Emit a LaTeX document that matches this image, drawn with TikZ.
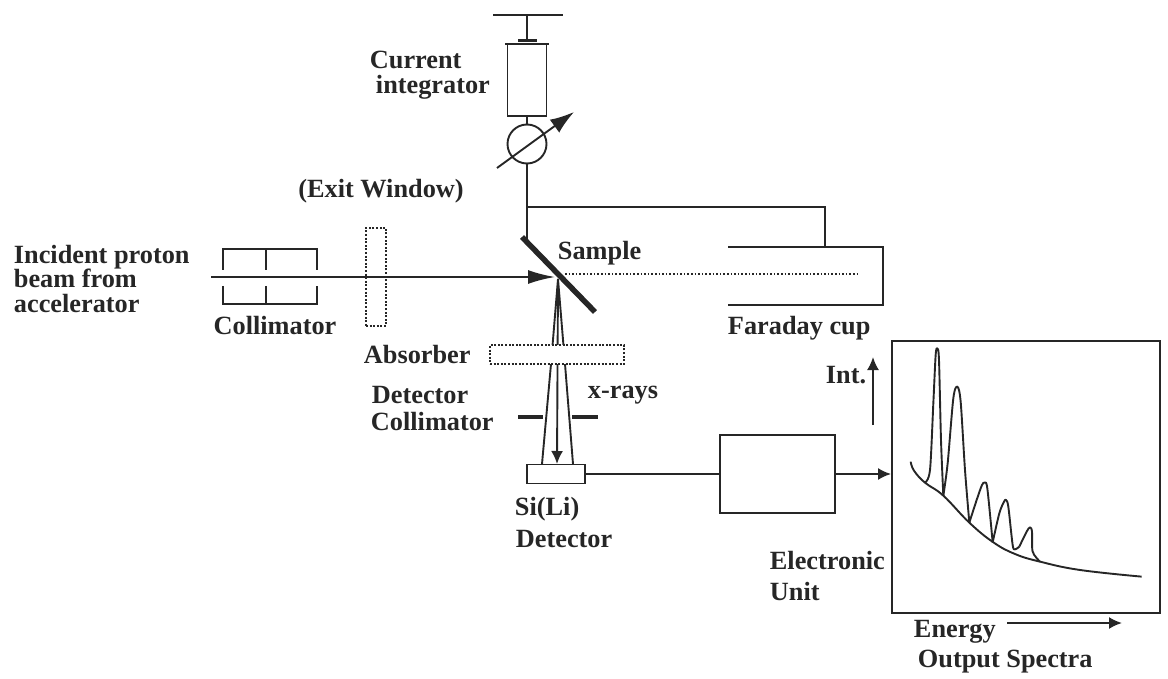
\documentclass[tikz,border=0pt]{standalone}
\usepackage{fontspec}
\setmainfont{Liberation Serif}
\usetikzlibrary{arrows.meta}
\definecolor{inkdark}{HTML}{262626}
\begin{document}
\begin{tikzpicture}[x=1pt,y=-1pt,
                    line width=1.9pt,
                    draw=inkdark,
                    text=inkdark,
                    >={Latex[length=13pt,width=12pt]},
                    ]
    \tikzstyle{tag}=[inner sep=0pt,font=\fontsize{26.3}{24.5}\selectfont\bfseries,align=left];
    \tikzstyle{box}=[draw,rectangle,inner sep=0pt];
    \tikzstyle{dotbox}=[box,fill=white,line width=2pt,dash pattern=on 2pt off 1.6pt];
    \tikzstyle{plate}=[line width=5.5pt];
    \tikzstyle{slit}=[line width=4.5pt];
    \tikzstyle{spectrum}=[line width=1.9pt,line join=round];

    \useasboundingbox (0,0) rectangle (1168,679);

    % current integrator branch
    \coordinate (barL) at (493,15);
    \coordinate (barR) at (563,15);
    \coordinate (barM) at (527,15);
    \node[box,minimum width=39,minimum height=72] (integrator) at (527,80) {};
    \node[box,circle,minimum size=39] (meter) at (527,144) {};
    \coordinate (capL) at (505,44);
    \coordinate (capR) at (549,44);
    \coordinate (capM) at (527,42);
    \coordinate (knobL) at (518,41);
    \coordinate (knobR) at (537,41);
    \coordinate (needleA) at (497,168);
    \coordinate (needleB) at (574,112);
    \coordinate (junction) at (527,207);
    \coordinate (sampleTop) at (527,240);
    \coordinate (cupWire) at (825,207);
    \coordinate (cupTop) at (825,247);

    \draw (barL) -- (barR);
    \draw (barM) -- (capM);
    \draw[line width=2.5pt] (capL) -- (capR);
    \draw[line width=3pt] (knobL) -- (knobR);
    \draw (integrator.south) -- (meter.north);
    \draw (meter.south) -- (sampleTop);
    \draw[-{Latex[length=24pt,width=16pt]}] (needleA) -- (needleB);
    \draw (junction) -- (cupWire) -- (cupTop);

    % beam line
    \coordinate (beamStart) at (211,277);
    \coordinate (beamTip) at (555,277);
    \coordinate (hit) at (558,279);
    \coordinate (sampleA) at (522,237);
    \coordinate (sampleB) at (595,312);
    \node[dotbox,fill=none,minimum width=20,minimum height=98] (window) at (376,277) {};
    \draw[-{Latex[length=27pt,width=14pt]}] (beamStart) -- (beamTip);
    \draw[plate] (sampleA) -- (sampleB);
    \draw[dotted,line width=1.6pt] (565,274) -- (860,274);

    % collimator
    \draw (223,270) -- (223,249) -- (317,249) -- (317,270);
    \draw (266,249) -- (266,270);
    \draw (223,286) -- (223,304) -- (317,304) -- (317,286);
    \draw (266,286) -- (266,304);

    % faraday cup
    \draw (728,247) -- (883,247) -- (883,305) -- (728,305);

    % x-rays
    \node[box,minimum width=58,minimum height=19] (detector) at (556,474) {};
    \coordinate (rayL) at (542,464);
    \coordinate (rayR) at (573,464);
    \draw (hit) -- (551,364) -- (rayL);
    \draw (hit) -- (565,364) -- (rayR);
    \draw[->] (hit) -- (557,464);
    \node[dotbox,minimum width=134,minimum height=19] (absorber) at (557,354.5) {};
    \draw[slit] (518,417) -- (543,417);
    \draw[slit] (572,417) -- (598,417);

    % electronics
    \node[box,minimum width=115,minimum height=78] (unit) at (777.5,474) {};
    \node[box,minimum width=268,minimum height=272] (output) at (1026,477) {};
    \coordinate (intA) at (873,425);
    \coordinate (intB) at (873,357);
    \coordinate (energyA) at (1007,623);
    \coordinate (energyB) at (1122,623);
    \draw (detector.east) -- (unit.west);
    \draw[->] (unit.east) -- (output.west |- unit.east);
    \draw[->] (intA) -- (intB);
    \draw[->] (energyA) -- (energyB);

    % spectrum
    \begin{scope}[shift={(880,330)},x=0.3333pt,y=-0.3333pt]
        \draw[spectrum] plot[smooth,tension=0.7] coordinates {(92,395) (102,422) (135,458) (190,497) (268,578) (340,637) (405,672) (480,695) (600,720) (785,740)};
        \draw[spectrum] plot[smooth,tension=0.5] coordinates {(135,458) (150,420) (160,220) (167,75) (172,55) (177,90) (183,330) (190,497)};
        \draw[spectrum] plot[smooth,tension=0.5] coordinates {(190,497) (203,400) (220,205) (232,170) (242,215) (255,420) (268,578)};
        \draw[spectrum] plot[smooth,tension=0.5] coordinates {(268,578) (290,510) (306,465) (314,458) (322,475) (338,637)};
        \draw[spectrum] plot[smooth,tension=0.5] coordinates {(338,637) (358,550) (372,515) (378,510) (385,530) (398,645) (405,658) (418,650)};
        \draw[spectrum] plot[smooth,tension=0.5] coordinates {(418,650) (440,605) (450,592) (456,605) (458,665) (480,695)};
    \end{scope}

    % labels
    \node[tag,anchor=west] (labCurrent) at (369,60) {Current};
    \node[tag,anchor=west] (labIntegrator) at (375,87) {integrator};
    \node[tag] (labWindow) at (381,191) {(Exit Window)};
    \node[tag,anchor=west] (labBeam) at (13,279) {Incident proton\\beam from\\accelerator};
    \node[tag] (labCollimator) at (275,326) {Collimator};
    \node[tag,anchor=west] (labSample) at (557,253) {Sample};
    \node[tag,anchor=west] (labCup) at (727,328) {Faraday cup};
    \node[tag,anchor=west] (labAbsorber) at (363,355) {Absorber};
    \node[tag,anchor=west] (labDetColl) at (371,395) {Detector};
    \node[tag,anchor=west] (labColl) at (370,422) {Collimator};
    \node[tag,anchor=west] (labRays) at (587,395) {x-rays};
    \node[tag,anchor=west] (labInt) at (825,375) {Int.};
    \node[tag,anchor=west] (labSiLi) at (514,509) {Si(Li)};
    \node[tag,anchor=west] (labDetector) at (515,539) {Detector};
    \node[tag,anchor=west] (labElectronic) at (769,561) {Electronic};
    \node[tag,anchor=west] (labUnit) at (769,592) {Unit};
    \node[tag,anchor=west] (labEnergy) at (913,632) {Energy};
    \node[tag,anchor=west] (labOutput) at (917,662) {Output Spectra};
\end{tikzpicture}
\end{document}
